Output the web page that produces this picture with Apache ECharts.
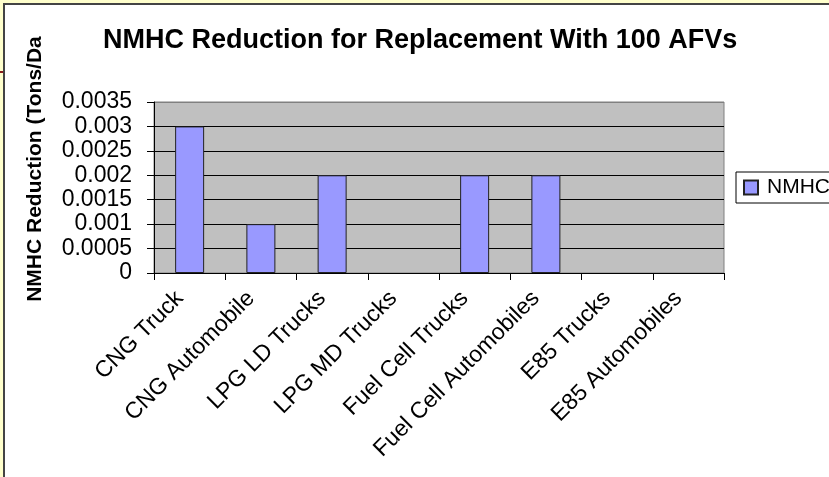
<!DOCTYPE html>
<html>
<head>
<meta charset="utf-8">
<script src="https://cdn.jsdelivr.net/npm/echarts@6/dist/echarts.min.js"></script>
<style>
  html, body { margin: 0; padding: 0; background: #ffffcc; overflow: hidden; }
  #frame { position: absolute; left: 3px; top: 3px; width: 900px; height: 600px;
           background: #fff; border-left: 2px solid #444; border-top: 2px solid #444; }
  #stub { position: absolute; left: 0; top: 71px; width: 3px; height: 2px; background: #8b1c1c; }
  #main { position: absolute; left: 0; top: 0; width: 829px; height: 477px; }
</style>
</head>
<body>
<div id="frame"></div>
<div id="stub"></div>
<div id="main"></div>
<script>
var myChart = echarts.init(document.getElementById('main'));
/*---------------------数据----------------------------*/
var categories = ['CNG Truck', 'CNG Automobile', 'LPG LD Trucks', 'LPG MD Trucks',
    'Fuel Cell Trucks', 'Fuel Cell Automobiles', 'E85 Trucks', 'E85 Automobiles'];
var nmhcValues = [0.003, 0.001, 0.002, 0, 0.002, 0.002, 0, 0];
var seriesName = 'NMHC';

var font = '"Liberation Sans", Arial, sans-serif';

// zero bars get no outline, like the original (nothing drawn at 0)
var barData = nmhcValues.map(function (v) {
    return v === 0 ? { value: v, itemStyle: { borderWidth: 0 } } : v;
});

var option = {
    backgroundColor: 'transparent',
    animation: false,
    title: {
        text: 'NMHC Reduction for Replacement With 100 AFVs',
        left: 103,
        top: 27,
        padding: 0,
        textStyle: {
            color: '#000',
            fontFamily: font,
            fontSize: 27,
            fontWeight: 'bold'
        }
    },
    legend: {
        data: [{ name: seriesName, icon: 'rect' }],
        left: 736,
        top: 172,
        padding: [5, 12, 5, 7],
        itemGap: 0,
        itemWidth: 14,
        itemHeight: 14,
        borderColor: '#000',
        borderWidth: 1,
        borderRadius: 0,
        backgroundColor: '#fff',
        textStyle: {
            color: '#000',
            fontFamily: font,
            fontSize: 21,
            padding: [0, 0, 0, 4]
        }
    },
    grid: {
        show: true,
        left: 154,
        top: 102,
        width: 570,
        height: 171,
        backgroundColor: '#c0c0c0',
        borderColor: '#808080',
        borderWidth: 1
    },
    xAxis: {
        type: 'category',
        data: categories,
        axisLine: { lineStyle: { color: '#000', width: 1 } },
        axisTick: { show: true, length: 7, alignWithLabel: false, lineStyle: { color: '#000' } },
        axisLabel: {
            interval: 0,
            rotate: 45,
            margin: 12,
            padding: [0, 14, 0, 0],
            color: '#000',
            fontFamily: font,
            fontSize: 23
        }
    },
    yAxis: {
        type: 'value',
        min: 0,
        max: 0.0035,
        interval: 0.0005,
        name: 'NMHC Reduction (Tons/Da',
        nameLocation: 'middle',
        nameRotate: 90,
        nameGap: 108,
        nameTextStyle: {
            color: '#000',
            fontFamily: font,
            fontSize: 21,
            fontWeight: 'bold',
            padding: [0, 0, 0, 37]
        },
        axisLine: { show: true, lineStyle: { color: '#000', width: 1 } },
        axisTick: { show: true, length: 7, lineStyle: { color: '#000' } },
        splitLine: {
            show: true,
            lineStyle: {
                color: ['#000', '#000', '#000', '#000', '#000', '#000', '#000', '#808080'],
                width: 1
            }
        },
        axisLabel: {
            margin: 22,
            color: '#000',
            fontFamily: font,
            fontSize: 23,
            formatter: function (v) {
                return String(+v.toFixed(4));
            }
        }
    },
    series: [{
        name: seriesName,
        type: 'bar',
        data: barData,
        barWidth: 29,
        itemStyle: {
            color: '#9999ff',
            borderColor: '#222',
            borderWidth: 1
        }
    }]
};
myChart.setOption(option);
</script>
</body>
</html>
